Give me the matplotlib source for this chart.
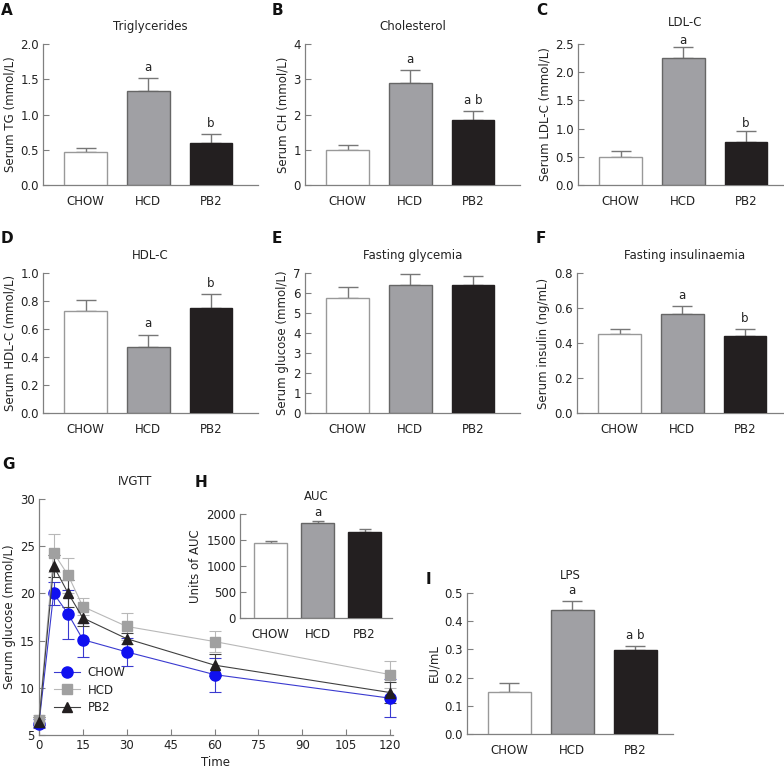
import numpy as np
import matplotlib
matplotlib.use("Agg")
import matplotlib.pyplot as plt

groups = ["CHOW", "HCD", "PB2"]

tg = [0.47, 1.33, 0.59]
tg_err = [0.06, 0.19, 0.13]
ch = [1.0, 2.9, 1.83]
ch_err = [0.13, 0.36, 0.27]
ldl = [0.50, 2.26, 0.77]
ldl_err = [0.10, 0.18, 0.19]
hdl = [0.73, 0.47, 0.75]
hdl_err = [0.075, 0.09, 0.10]
glu = [5.75, 6.4, 6.4]
glu_err = [0.55, 0.55, 0.45]
ins = [0.45, 0.565, 0.44]
ins_err = [0.03, 0.045, 0.04]
auc = [1440, 1830, 1660]
auc_err = [40, 40, 60]
lps = [0.148, 0.44, 0.297]
lps_err = [0.032, 0.03, 0.015]

time = [0, 5, 10, 15, 30, 60, 120]
g_chow = [6.2, 20.0, 17.8, 15.1, 13.8, 11.4, 8.9]
g_chow_err = [0.5, 1.2, 2.6, 1.8, 1.5, 1.8, 2.0]
g_hcd = [6.6, 24.3, 21.9, 18.6, 16.5, 14.9, 11.4]
g_hcd_err = [0.5, 2.0, 1.9, 0.9, 1.4, 1.1, 1.4]
g_pb2 = [6.4, 22.9, 20.0, 17.4, 15.2, 12.4, 9.5]
g_pb2_err = [0.5, 1.2, 1.4, 0.9, 0.6, 1.2, 1.1]

fills = ["white", "#a0a0a4", "#231f20"]
edges = ["#999999", "#666666", "#231f20"]
axcol = "#808080"
txt = "#222222"

plt.rcParams["font.family"] = "DejaVu Sans"
plt.rcParams["font.size"] = 8
plt.rcParams["text.color"] = txt
plt.rcParams["axes.labelcolor"] = txt
plt.rcParams["xtick.color"] = txt
plt.rcParams["ytick.color"] = txt

W, H = 784, 769
fig = plt.figure(figsize=(W / 100, H / 100), dpi=100)


def px_axes(left, top, right, bottom):
    return fig.add_axes([left / W, 1 - bottom / H, (right - left) / W, (bottom - top) / H])


def style(ax):
    for s in ["top", "right"]:
        ax.spines[s].set_visible(False)
    for s in ["left", "bottom"]:
        ax.spines[s].set_color(axcol)
        ax.spines[s].set_linewidth(0.9)
    ax.tick_params(direction="in", length=4, width=0.8, color=axcol, labelsize=8.5, pad=3)


def bar_panel(rect, vals, errs, title, ylabel, yticks, ylim, marks, xlim=(-0.68, 2.75),
              width=0.68, cap=7, fmt="{:.1f}", tpad=10, moff=3):
    ax = px_axes(*rect)
    x = np.arange(3)
    ax.bar(x, vals, width, color=fills, edgecolor=edges, linewidth=1, zorder=3)
    ax.errorbar(x, vals, yerr=[np.zeros(3), errs], fmt="none", ecolor="#777777",
                elinewidth=1, capsize=cap, capthick=1, zorder=2)
    for xi, v, e, m in zip(x, vals, errs, marks):
        if m:
            ax.annotate(m, (xi, v + e), xytext=(0, moff), textcoords="offset points",
                        ha="center", va="bottom", fontsize=8.5)
    ax.set_xlim(*xlim)
    ax.set_ylim(*ylim)
    ax.set_yticks(yticks)
    ax.set_yticklabels([fmt.format(t) for t in yticks])
    ax.set_xticks(x)
    ax.set_xticklabels(groups)
    ax.set_title(title, fontsize=8.5, pad=tpad)
    ax.set_ylabel(ylabel, fontsize=8.5, labelpad=3)
    style(ax)
    ax.tick_params(axis="x", pad=7)
    return ax


bar_panel((43, 44, 258, 185), tg, tg_err, "Triglycerides", "Serum TG (mmol/L)",
          [0, 0.5, 1.0, 1.5, 2.0], (0, 2.0), ["", "a", "b"])
bar_panel((305, 44, 520, 185), ch, ch_err, "Cholesterol", "Serum CH (mmol/L)",
          [0, 1, 2, 3, 4], (0, 4), ["", "a", "a b"], fmt="{:.0f}")
bar_panel((578, 44, 793, 185), ldl, ldl_err, "LDL-C", "Serum LDL-C (mmol/L)",
          [0, 0.5, 1.0, 1.5, 2.0, 2.5], (0, 2.5), ["", "a", "b"], tpad=13, moff=0.5)
bar_panel((43, 273, 258, 413), hdl, hdl_err, "HDL-C", "Serum HDL-C (mmol/L)",
          [0, 0.2, 0.4, 0.6, 0.8, 1.0], (0, 1.0), ["", "a", "b"])
bar_panel((305, 273, 520, 413), glu, glu_err, "Fasting glycemia", "Serum glucose (mmol/L)",
          [0, 1, 2, 3, 4, 5, 6, 7], (0, 7), ["", "", ""], fmt="{:.0f}")
bar_panel((577, 273, 792, 413), ins, ins_err, "Fasting insulinaemia", "Serum insulin (ng/mL)",
          [0, 0.2, 0.4, 0.6, 0.8], (0, 0.8), ["", "a", "b"])

# G: IVGTT curves
ax = px_axes(39, 499, 393, 735)
series = [
    (g_chow, g_chow_err, "CHOW", "o", "#1010f0", "#3a3ad0", 8),
    (g_hcd, g_hcd_err, "HCD", "s", "#a0a0a0", "#b8b8b8", 7.5),
    (g_pb2, g_pb2_err, "PB2", "^", "#231f20", "#404040", 7.5),
]
for vals, errs, lab, mk, mc, lc, ms in series:
    ax.errorbar(time, vals, yerr=errs, fmt="none", ecolor=lc, elinewidth=0.8,
                capsize=4, capthick=0.8, zorder=2, clip_on=False)
    ax.plot(time, vals, color=lc, lw=0.8, marker=mk, markersize=ms, markerfacecolor=mc,
            markeredgecolor=mc, label=lab, zorder=3, clip_on=False)
ax.set_xlim(0, 121)
ax.set_ylim(5, 30)
ax.set_xticks([0, 15, 30, 45, 60, 75, 90, 105, 120])
ax.set_yticks([5, 10, 15, 20, 25, 30])
ax.set_xlabel("Time", fontsize=8.5, labelpad=3)
ax.set_ylabel("Serum glucose (mmol/L)", fontsize=8.5, labelpad=3)
ax.set_title("IVGTT", fontsize=8.5, pad=10, x=0.27)
style(ax)
ax.legend(loc="lower left", bbox_to_anchor=(0.03, 0.07), frameon=False, fontsize=8.5,
          handlelength=2.2, handletextpad=0.6, labelspacing=0.35, borderaxespad=0)

# H: AUC inset
bar_panel((240, 514, 392, 618), auc, auc_err, "AUC", "Units of AUC",
          [0, 500, 1000, 1500, 2000], (0, 2000), ["", "a", ""], xlim=(-0.65, 2.585),
          width=0.70, cap=4.5, fmt="{:.0f}", moff=1)

# I: LPS
bar_panel((467, 593, 673, 734), lps, lps_err, "LPS", "EU/mL",
          [0, 0.1, 0.2, 0.3, 0.4, 0.5], (0, 0.5), ["", "a", "a b"],
          xlim=(-0.67, 2.6))

labels = [("A", 1, 3), ("B", 272, 3), ("C", 536, 3), ("D", 1, 231), ("E", 272, 231),
          ("F", 536, 231), ("G", 2, 457), ("H", 195, 475), ("I", 426, 572)]
for t, x0, y0 in labels:
    fig.text(x0 / W, 1 - y0 / H, t, fontsize=11, fontweight="bold", ha="left", va="top",
             color="#111111")

fig.savefig("out.png", dpi=100)
